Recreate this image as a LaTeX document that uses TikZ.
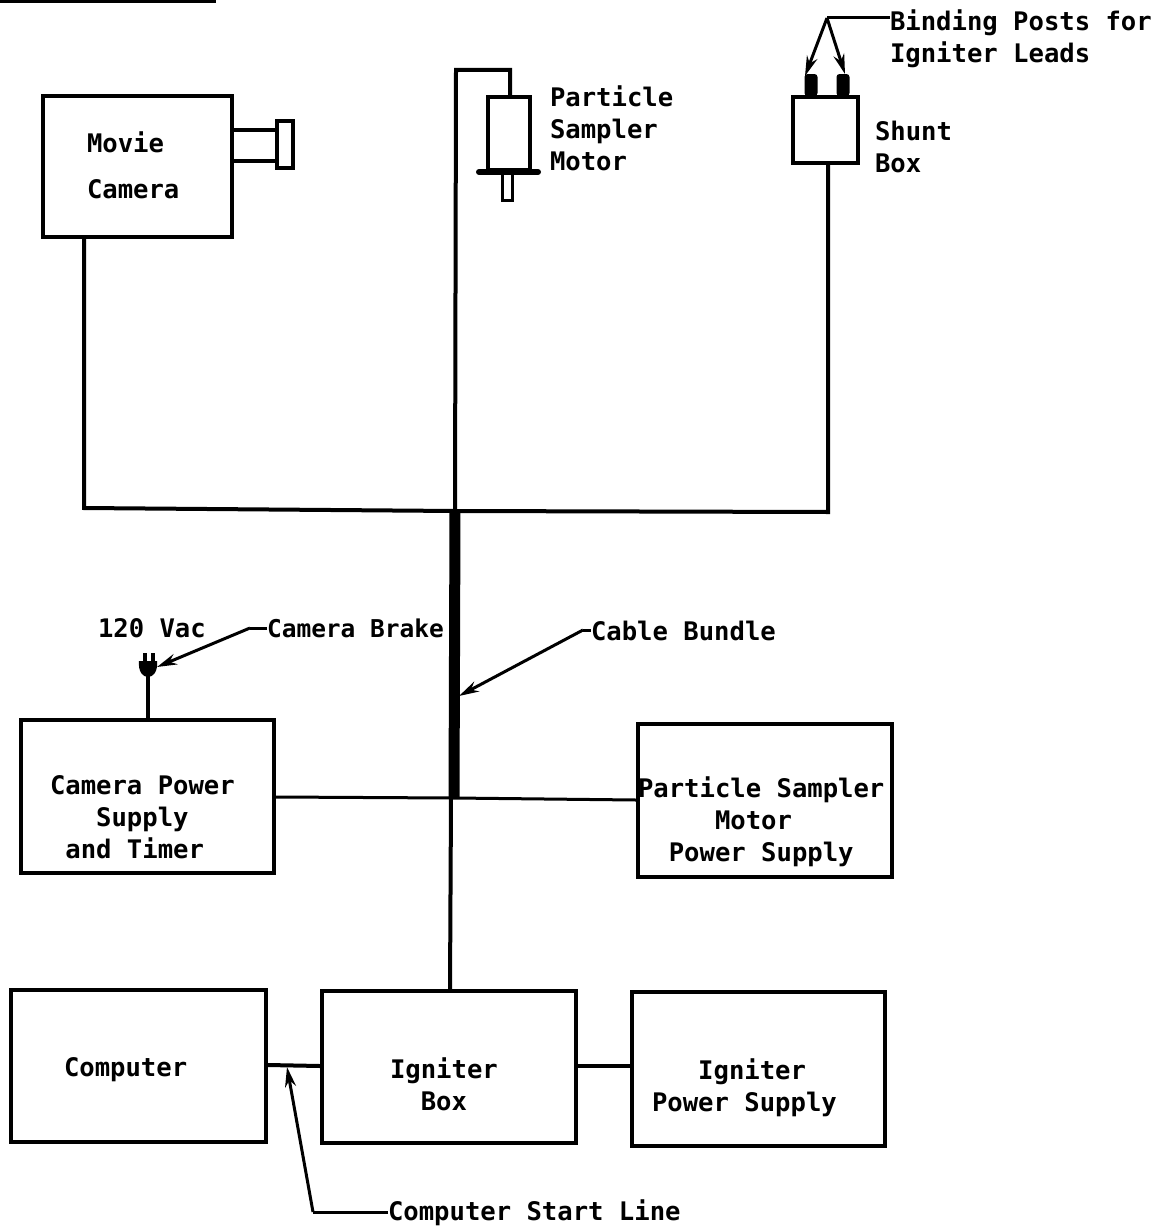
\documentclass[tikz,border=0pt]{standalone}
\usepackage{fontspec}
\setmainfont{DejaVu Sans Mono}[BoldFont={DejaVu Sans Mono Bold}]
\usetikzlibrary{arrows.meta,calc}
\newlength{\chw}\setlength{\chw}{15.4pt}
\newcommand{\ind}[1]{\hspace*{#1\chw}}
\tikzset{
  box/.style={draw,line width=4pt,rectangle,minimum width=#1,inner sep=0pt},
  wire/.style={line width=4pt,line join=miter},
  thinwire/.style={line width=3pt},
  leadline/.style={line width=3pt},
  lead/.style={line width=3pt,-{Stealth[length=20pt,width=11pt]}},
  lab/.style={anchor=base west,inner sep=0pt,outer sep=0pt,align=left,
    font=\bfseries\fontsize{25.58}{32}\selectfont}
}
\begin{document}
\begin{tikzpicture}[x=1pt,y=-1pt]
\useasboundingbox (0,0) rectangle (1166,1231);
% top rule
\coordinate (ruleL) at (0,1); \coordinate (ruleR) at (216,1);
\draw[wire] (ruleL) -- (ruleR);
% boxes
\node[box=189pt,minimum height=141pt] (camera) at (137.5,166.5) {};
\node[box=42pt,minimum height=73pt] (motor) at (509,133.5) {};
\node[box=65pt,minimum height=66pt] (shunt) at (825.5,130) {};
\node[box=253pt,minimum height=153pt] (cps) at (147.5,796.5) {};
\node[box=254pt,minimum height=153pt] (pps) at (765,800.5) {};
\node[box=255pt,minimum height=152pt] (computer) at (138.5,1066) {};
\node[box=254pt,minimum height=152pt] (igniter) at (449,1067) {};
\node[box=253pt,minimum height=154pt] (ips) at (758.5,1069) {};
% camera lens
\node[box=16pt,minimum height=47pt] (lens) at (285,144.5) {};
\draw[wire] (camera.east |- 0,130) -- (lens.west |- 0,130);
\draw[wire] (camera.east |- 0,161) -- (lens.west |- 0,161);
% motor flange and shaft
\coordinate (flangeL) at (479,172); \coordinate (flangeR) at (538,172);
\draw[line width=6pt,line cap=round] (flangeL) -- (flangeR);
\node[draw,line width=3pt,minimum width=10pt,minimum height=27pt,inner sep=0pt] (shaft) at (507,187) {};
% binding posts
\node[fill=black,minimum width=13pt,minimum height=22pt,inner sep=0pt,rounded corners=3pt] (postA) at (811,85) {};
\node[fill=black,minimum width=13pt,minimum height=22pt,inner sep=0pt,rounded corners=3pt] (postB) at (843,85) {};
% wiring
\coordinate (junction) at (455,511);
\coordinate (bundleBottom) at (454,798);
\coordinate (motorCorner) at (456,70);
\draw[wire] (camera.south -| 84,0) -- (84,508) -- (junction) -- (828,512) -- (shunt.south -| 828,0);
\draw[wire] (junction) -- (motorCorner) -- (510,70) -- (motor.north -| 510,0);
\draw[line width=11pt] (junction) -- (bundleBottom);
\draw[thinwire] (cps.east |- 0,797) -- (bundleBottom) -- (pps.west |- 0,800);
\draw[wire] (451,798) -- (igniter.north -| 450,0);
\draw[wire] (computer.east |- 0,1065) -- (igniter.west |- 0,1066);
\draw[wire] (igniter.east |- 0,1066) -- (ips.west |- 0,1066);
% plug
\coordinate (plug) at (148,676);
\draw[wire] (plug) -- (cps.north -| plug);
\fill (139,661) -- (157,661) .. controls (158,672) and (153,677) .. (148,677) .. controls (143,677) and (138,672) .. (139,661) -- cycle;
\fill (143,653) rectangle (147,662);
\fill (151,653) rectangle (155,662);
% labels
\node[lab] (lMovie) at (87,198) {Movie\\[14pt]Camera};
\node[lab] (lMotor) at (550,170) {Particle\\Sampler\\Motor};
\node[lab] (lShunt) at (875,172) {Shunt\\Box};
\node[lab] (lBind) at (890,63) {Binding Posts for\\Igniter Leads};
\node[lab] (lVac) at (98,637) {120 Vac};
\node[lab,font=\bfseries\fontsize{24.5}{32}\selectfont] (lBrake) at (267,637) {Camera Brake};
\node[lab] (lCable) at (591,640) {Cable Bundle};
\node[lab] (lCps) at (50,858) {Camera Power\\\ind{3}Supply\\\ind{1}and Timer};
\node[lab] (lPps) at (638,861) {Particle Sampler\\\ind{5}Motor\\\ind{2}Power Supply};
\node[lab] (lComp) at (64,1076) {Computer};
\node[lab] (lIgn) at (390,1110) {Igniter\\\ind{2}Box};
\node[lab] (lIps) at (652,1111) {\ind{3}Igniter\\Power Supply};
\node[lab] (lStart) at (388,1220) {Computer Start Line};
% leaders
\coordinate (apex) at (827,18);
\draw[leadline] (apex) -- (lBind.west |- apex);
\draw[lead] (apex) -- (805,76);
\draw[lead] (apex) -- (845,74);
\coordinate (brakeKnee) at (250,628);
\draw[leadline] (lBrake.west |- brakeKnee) -- (brakeKnee);
\draw[lead] (brakeKnee) -- (157,667);
\coordinate (cableKnee) at (583,630);
\draw[leadline] (lCable.west |- cableKnee) -- (cableKnee);
\draw[lead] (cableKnee) -- (459,696);
\coordinate (startKnee) at (313,1212);
\draw[leadline] (lStart.west |- startKnee) -- (startKnee);
\draw[lead] (startKnee) -- (287,1067);
\end{tikzpicture}
\end{document}
